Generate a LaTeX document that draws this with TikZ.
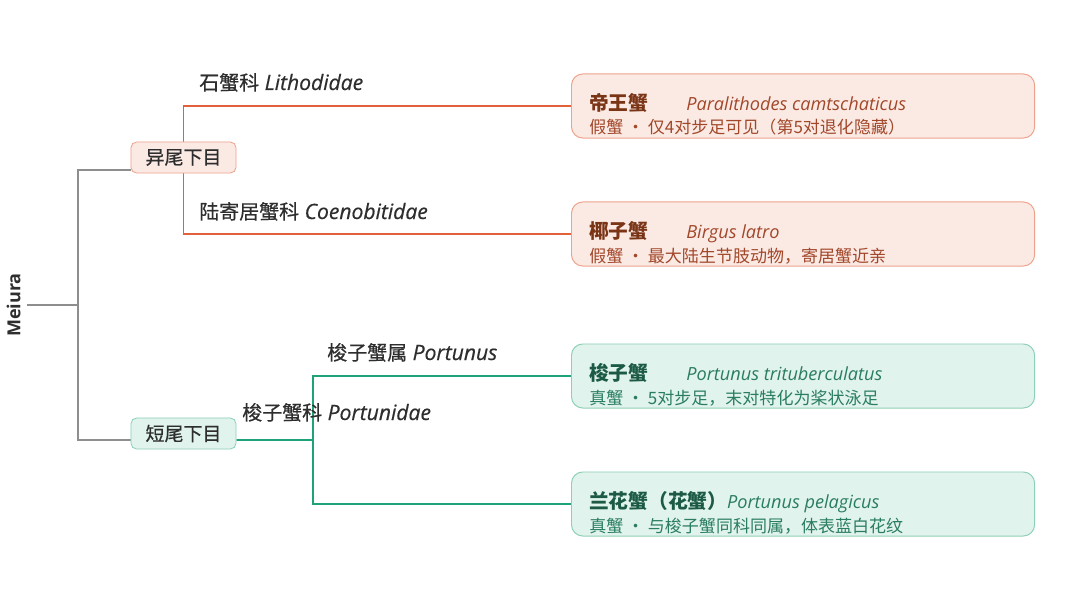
\documentclass[tikz,border=0pt]{standalone}
\usepackage{fontspec}
\setmainfont{Open Sans}
\newfontfamily\cjk{Noto Sans CJK SC}
\newfontfamily\labelfont{Open Sans}[FakeBold=0.5]
\newfontfamily\labelcjk{Noto Sans CJK SC}[FakeBold=0.5]
\usetikzlibrary{calc,positioning,backgrounds}
\definecolor{treeGray}{HTML}{8E8E8E}
\definecolor{anoLine}{HTML}{E2603C}
\definecolor{anoFill}{HTML}{FBEAE4}
\definecolor{anoEdge}{HTML}{EEA28B}
\definecolor{anoDark}{HTML}{7A3517}
\definecolor{anoText}{HTML}{A2472A}
\definecolor{braLine}{HTML}{1FA27A}
\definecolor{braFill}{HTML}{E0F3EC}
\definecolor{braEdge}{HTML}{8ED0B6}
\definecolor{braDark}{HTML}{1C5A45}
\definecolor{braText}{HTML}{2A7D60}
\definecolor{labelInk}{HTML}{2E2E2E}

\begin{document}
\begin{tikzpicture}[x=0.025cm,y=-0.025cm]
\tikzstyle{orderbox}=[rounded corners=4pt,line width=.6pt,minimum width=2.625cm,minimum height=.775cm,inner sep=0pt,font=\labelcjk\fontsize{13.5}{16}\selectfont,text=labelInk]
\tikzstyle{crabbox}=[rounded corners=8pt,line width=.7pt,minimum width=11.575cm,minimum height=1.6cm,inner sep=0pt,anchor=west]
\tikzstyle{famlabel}=[anchor=base west,inner sep=0pt,text=labelInk,font=\labelfont\fontsize{15}{18}\selectfont]
\tikzstyle{crabtitle}=[anchor=base west,inner sep=0pt,font=\fontsize{12.9}{15}\selectfont]
\tikzstyle{crabnote}=[anchor=base west,inner sep=0pt,font=\cjk\fontsize{12.1}{14}\selectfont]
\tikzstyle{treeline}=[draw=treeGray,line width=1.4pt]
\newcommand\famcn[1]{{\labelcjk\fontsize{14.2}{18}\selectfont #1}}
\useasboundingbox (0,0) rectangle (1080,611);

% root and the two infraorders
\node[rotate=90,inner sep=4.5pt,text=labelInk,font=\bfseries\fontsize{12.8}{15}\selectfont] (meiura) at (13.5,305) {Meiura};
\coordinate (root) at (78,305);
\node[orderbox,draw=anoEdge,fill=anoFill] (yiwei) at (183.5,157.5) {异尾下目};
\node[orderbox,draw=braEdge,fill=braFill] (duanwei) at (183.5,433.5) {短尾下目};

% family labels
\node[famlabel] (lithodidae) at (199,90) {\famcn{石蟹科} \textit{Lithodidae}};
\node[famlabel] (coenobitidae) at (199,219) {\famcn{陆寄居蟹科} \textit{Coenobitidae}};
\node[famlabel] (portunus) at (327,360) {\famcn{梭子蟹属} \textit{Portunus}};
\node[famlabel] (portunidae) at (242,420) {\famcn{梭子蟹科} \textit{Portunidae}};

% species cards
\node[crabbox,draw=anoEdge,fill=anoFill] (king) at (571,106) {};
\node[crabtitle] (kingT) at ($(king.west)+(18,4)$) {\makebox[2.425cm][l]{\cjk\bfseries\fontsize{14}{16}\selectfont\color{anoDark}帝王蟹}\textcolor{anoText}{\itshape Paralithodes camtschaticus}};
\node[crabnote,text=anoText] (kingN) at ($(king.west)+(18,28)$) {假蟹 ・ 仅4对步足可见（第5对退化隐藏）};

\node[crabbox,draw=anoEdge,fill=anoFill] (coconut) at (571,234) {};
\node[crabtitle] (coconutT) at ($(coconut.west)+(18,4)$) {\makebox[2.425cm][l]{\cjk\bfseries\fontsize{14}{16}\selectfont\color{anoDark}椰子蟹}\textcolor{anoText}{\itshape Birgus latro}};
\node[crabnote,text=anoText] (coconutN) at ($(coconut.west)+(18,28)$) {假蟹 ・ 最大陆生节肢动物，寄居蟹近亲};

\node[crabbox,draw=braEdge,fill=braFill] (swim) at (571,376) {};
\node[crabtitle] (swimT) at ($(swim.west)+(18,4)$) {\makebox[2.425cm][l]{\cjk\bfseries\fontsize{14}{16}\selectfont\color{braDark}梭子蟹}\textcolor{braText}{\itshape Portunus trituberculatus}};
\node[crabnote,text=braText] (swimN) at ($(swim.west)+(18,28)$) {真蟹 ・ 5对步足，末对特化为桨状泳足};

\node[crabbox,draw=braEdge,fill=braFill] (blue) at (571,504) {};
\node[crabtitle] (blueT) at ($(blue.west)+(18,4)$) {{\cjk\bfseries\fontsize{14}{16}\selectfont\color{braDark}兰花蟹（花蟹）}\textcolor{braText}{\itshape Portunus pelagicus}};
\node[crabnote,text=braText] (blueN) at ($(blue.west)+(18,28)$) {真蟹 ・ 与梭子蟹同科同属，体表蓝白花纹};

% branches
\begin{scope}[on background layer]
\draw[treeline] (meiura.south) -- (root);
\draw[treeline] (root) |- ($(yiwei.west)+(0,12.5)$);
\draw[treeline] (root) |- ($(duanwei.west)+(0,6.5)$);
\draw[draw=anoLine,line width=1.1pt] (king.west) -| (yiwei.center) |- (coconut.west);
\coordinate (pfork) at (313,440);
\draw[draw=braLine,line width=1.1pt] ($(duanwei.east)+(0,6.5)$) -- (pfork);
\draw[draw=braLine,line width=1.1pt] (swim.west) -| (pfork) |- (blue.west);
\end{scope}
\end{tikzpicture}
\end{document}
